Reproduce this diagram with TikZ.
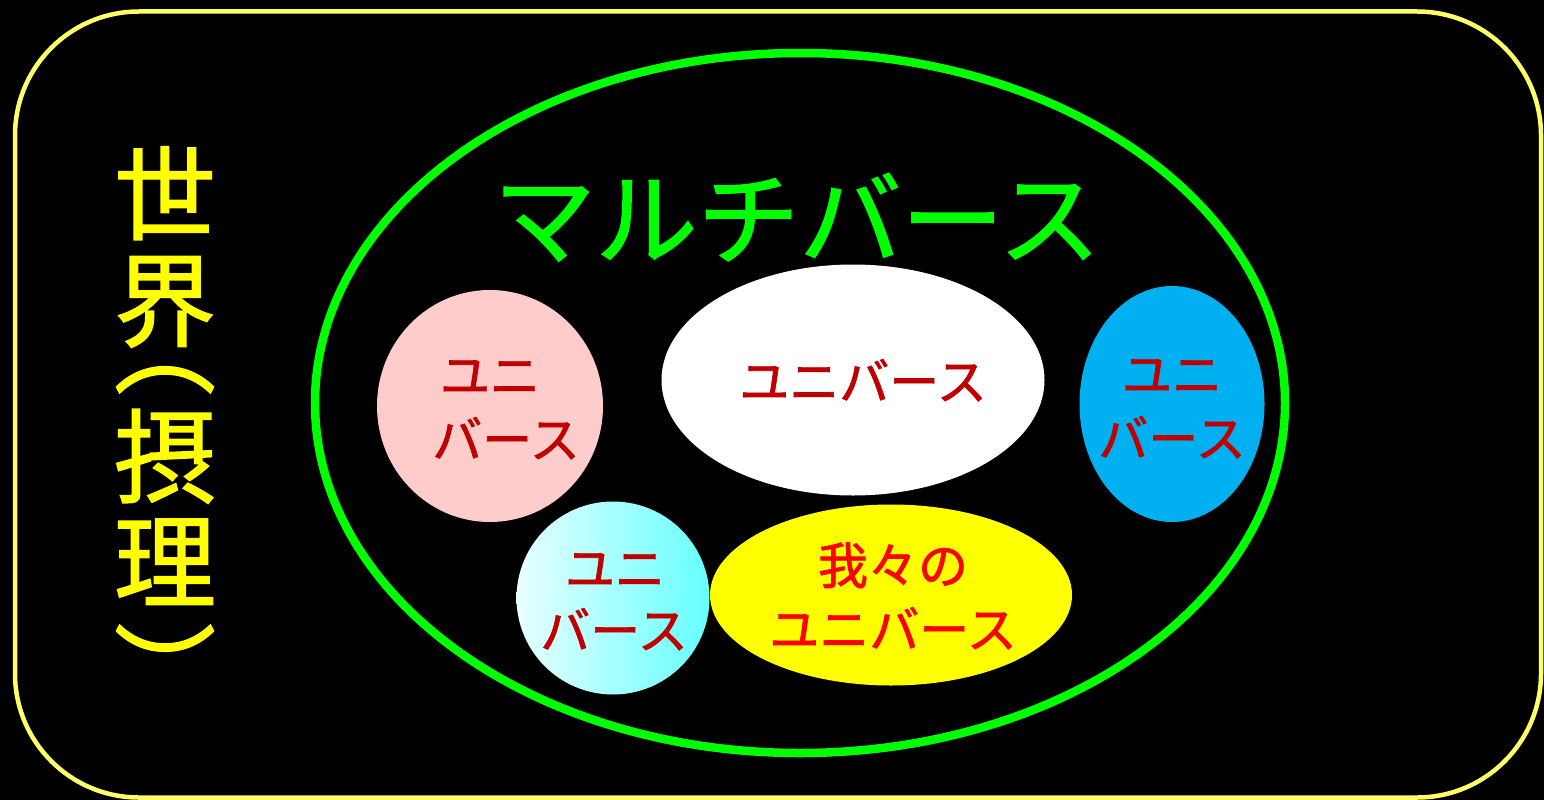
\documentclass[tikz,border=0pt]{standalone}
\usepackage{fontspec}
\newfontfamily\jp[FakeBold=1.4]{Noto Sans CJK JP}
\usetikzlibrary{shapes.geometric}
\definecolor{frameY}{HTML}{FFFF66}
\definecolor{titleY}{HTML}{FFFF00}
\definecolor{multiG}{HTML}{00FF00}
\definecolor{pinkU}{HTML}{FFCCCC}
\definecolor{blueU}{HTML}{00B0F0}
\definecolor{cyanU}{HTML}{66FFFF}
\definecolor{yelU}{HTML}{FFFF00}
\definecolor{darkR}{HTML}{C00000}
\definecolor{brightR}{HTML}{FF0000}
\begin{document}
\begin{tikzpicture}[x=1pt,y=-1pt,
  univ/.style={ellipse,inner sep=0pt,draw=none},
  jtxt/.style={inner sep=0pt,font=\jp\fontsize{50}{60}\selectfont,text height=44pt,text depth=6pt},
  redtxt/.style={jtxt,text=darkR},
  bigtxt/.style={inner sep=0pt,font=\jp\fontsize{102}{120}\selectfont,text height=89.76pt,text depth=12.24pt},
  sidetxt/.style={inner sep=0pt,text=titleY,font=\jp\fontsize{102}{120}\selectfont,text height=89.76pt,text depth=12.24pt},
  paren/.style={inner sep=0pt,text=titleY,font=\jp\fontsize{102}{120}\selectfont},
]
\fill[black] (0,0) rectangle (1544,800);
\useasboundingbox (0,0) rectangle (1544,800);
% outer frame
\draw[frameY,line width=4.5pt,rounded corners=124pt] (15,11.5) rectangle (1541,797.5);
% world text
\node[sidetxt] (w1) at (165,193) {世};
\node[sidetxt] (w2) at (165,300) {界};
\node[paren,text height=24pt,text depth=9pt] (w3) at (165,378) {︵};
\node[sidetxt] (w4) at (165,456) {摂};
\node[sidetxt] (w5) at (165,561) {理};
\node[paren,text height=19pt,text depth=19pt] (w6) at (165,636) {\raisebox{-74pt}{︶}};
% multiverse
\draw[multiG,line width=8.5pt] (800,403) ellipse [x radius=485pt,y radius=350pt];
\node[bigtxt,text=multiG] (mv) at (797,218) {マルチバース};
% universes
\node[univ,fill=pinkU,minimum width=226pt,minimum height=232pt] (u1) at (490,406) {};
\node[redtxt] (u1a) at (490,375) {ユニ};
\node[redtxt] (u1b) at (506,439) {バース};

\node[univ,fill=white,minimum width=383pt,minimum height=231pt] (u2) at (853,380) {};
\node[redtxt] (u2a) at (863,381) {ユニバース};

\node[univ,fill=blueU,minimum width=185pt,minimum height=236pt] (u3) at (1172,404) {};
\node[redtxt] (u3a) at (1172,374) {ユニ};
\node[redtxt] (u3b) at (1172,438) {バース};

\node[univ,left color=white!85!cyanU,right color=cyanU,minimum width=193pt,minimum height=193pt] (u4) at (613,598) {};
\node[redtxt] (u4a) at (615,568) {ユニ};
\node[redtxt] (u4b) at (614,630) {バース};

\node[univ,fill=yelU,minimum width=362pt,minimum height=181pt] (u5) at (891,595) {};
\node[jtxt,text=brightR] (u5a) at (893,565) {我々の};
\node[jtxt,text=brightR] (u5b) at (893,629) {ユニバース};
\end{tikzpicture}
\end{document}
